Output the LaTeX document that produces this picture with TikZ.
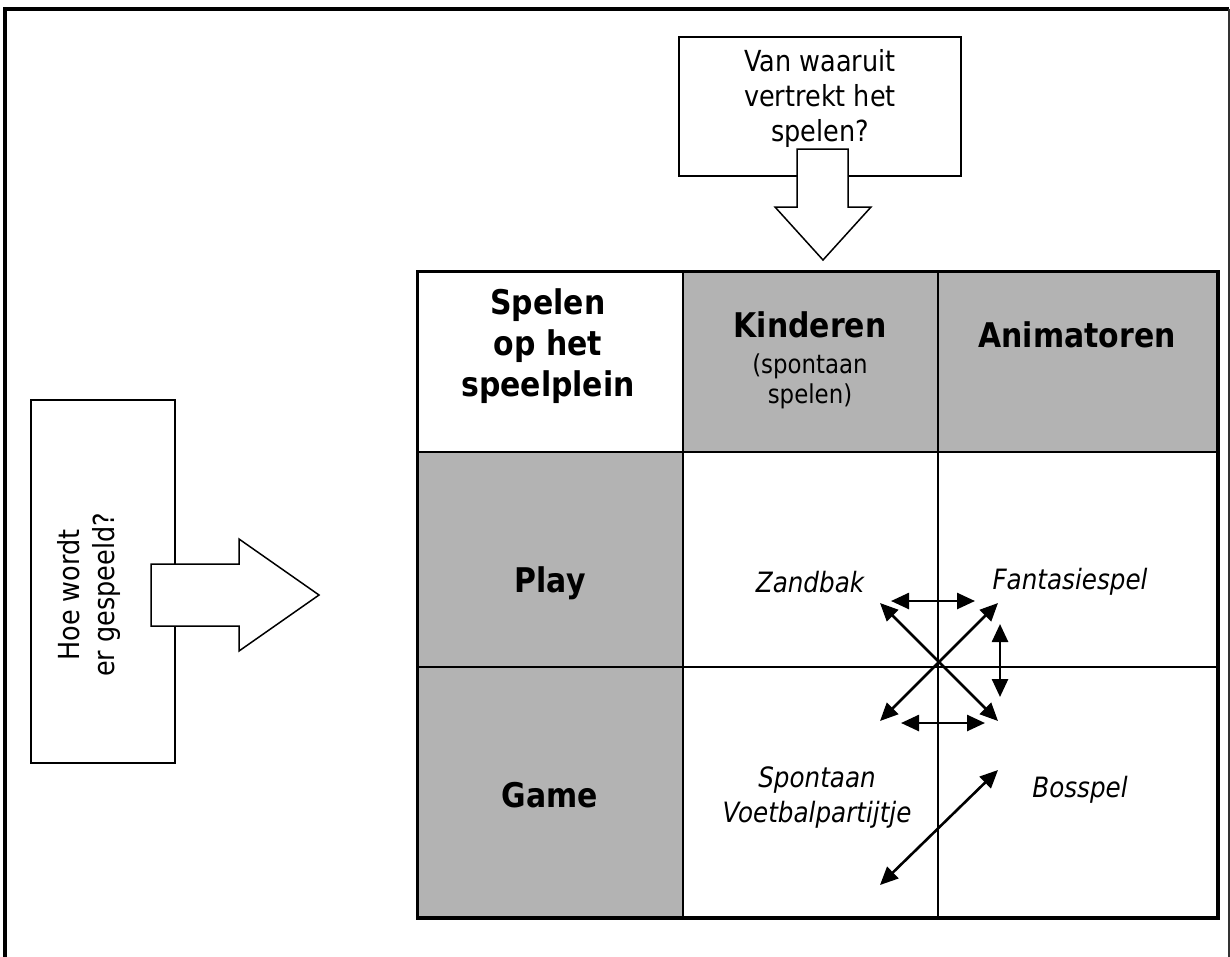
\documentclass[tikz,border=0pt]{standalone}
\usepackage{fontspec}
\setmainfont{DejaVu Sans}[FakeStretch=0.88]
\usepackage{xcolor}
\usetikzlibrary{arrows.meta,positioning}
\definecolor{cellgray}{RGB}{179,179,179}

\begin{document}
\begin{tikzpicture}[x=1pt, y=-1pt,
  hdr/.style={font=\fontsize{34}{41}\selectfont\bfseries, align=center, inner sep=0pt},
  txt/.style={font=\fontsize{29}{35}\selectfont, align=center, inner sep=0pt},
  ital/.style={font=\fontsize{28}{35}\selectfont\itshape, align=center, inner sep=0pt},
  cell/.style={draw, line width=2pt, inner sep=0pt},
  qbox/.style={draw, line width=1.5pt, inner sep=0pt},
  blk/.style={draw, line width=1.5pt, fill=white, line join=miter},
  dbl/.style={line width=2.6pt, {Triangle[length=18pt,width=16pt]}-{Triangle[length=18pt,width=16pt]}}]
  \useasboundingbox (0,0) rectangle (1230,956);
  % frame
  \draw[line width=4pt] (5,960) -- (5,9) -- (1229,9);
  \draw[line width=1.5pt, black!80] (1229,9) -- (1229,960);
  % question boxes
  \node[qbox, minimum width=282pt, minimum height=139pt] (qtop) at (820,106.5) {};
  \node[txt] (qtoptxt) at (820,98) {Van waaruit\\vertrekt het\\spelen?};
  \node[qbox, minimum width=144pt, minimum height=363pt] (qleft) at (103,581.5) {};
  \node[txt, rotate=90] (qlefttxt) at (89,595) {Hoe wordt\\er gespeeld?};
  % block arrows
  \draw[blk] (797,149) -- (848,149) -- (848,207) -- (871,207) -- (823,260)
    -- (775,207) -- (797,207) -- cycle;
  \draw[blk] (151,564) -- (239,564) -- (239,539) -- (319,595) -- (239,651)
    -- (239,626) -- (151,626) -- cycle;
  % table
  \node[cell, minimum width=265pt, minimum height=180pt] (c11) at (550.5,362) {};
  \node[cell, fill=cellgray, minimum width=255pt, minimum height=180pt] (c12) at (810.5,362) {};
  \node[cell, fill=cellgray, minimum width=279pt, minimum height=180pt] (c13) at (1077.5,362) {};
  \node[cell, fill=cellgray, minimum width=265pt, minimum height=215pt] (c21) at (550.5,559.5) {};
  \node[cell, minimum width=255pt, minimum height=215pt] (c22) at (810.5,559.5) {};
  \node[cell, minimum width=279pt, minimum height=215pt] (c23) at (1077.5,559.5) {};
  \node[cell, fill=cellgray, minimum width=265pt, minimum height=250pt] (c31) at (550.5,792) {};
  \node[cell, minimum width=255pt, minimum height=250pt] (c32) at (810.5,792) {};
  \node[cell, minimum width=279pt, minimum height=250pt] (c33) at (1077.5,792) {};
  \draw[line width=3pt] (c11.north west) rectangle (c33.south east);
  % cell texts
  \node[hdr] (spelen) at (548,346) {Spelen\\op het\\speelplein};
  \node[hdr] (kind) at (810,325) {Kinderen};
  \node[font=\fontsize{26}{30}\selectfont, align=center, inner sep=0pt, below=15pt of kind] (spont) {(spontaan\\spelen)};
  \node[hdr] (anim) at (1077,335) {Animatoren};
  \node[hdr] (play) at (550,583) {Play};
  \node[ital] (zand) at (810,582) {Zandbak};
  \node[ital] (fant) at (1070,582) {Fantasiespel};
  \node[hdr] (game) at (550,795) {Game};
  \node[ital] (voet) at (817,798) {Spontaan\\Voetbalpartijtje};
  \node[ital] (bos) at (1080,790) {Bosspel};
  % arrows between the cells
  \coordinate (nw) at (880,603);
  \coordinate (ne) at (998,603);
  \coordinate (sw) at (880,721);
  \coordinate (se) at (998,721);
  \coordinate (ha) at (891,601);
  \coordinate (hb) at (975,601);
  \coordinate (hc) at (901,723);
  \coordinate (hd) at (985,723);
  \coordinate (va) at (1000,624);
  \coordinate (vb) at (1000,697);
  \coordinate (la) at (880,885);
  \coordinate (lb) at (998,770);
  \draw[dbl] (nw) -- (se);
  \draw[dbl] (ne) -- (sw);
  \draw[dbl] (ha) -- (hb);
  \draw[dbl] (hc) -- (hd);
  \draw[dbl] (va) -- (vb);
  \draw[dbl] (la) -- (lb);
\end{tikzpicture}
\end{document}
